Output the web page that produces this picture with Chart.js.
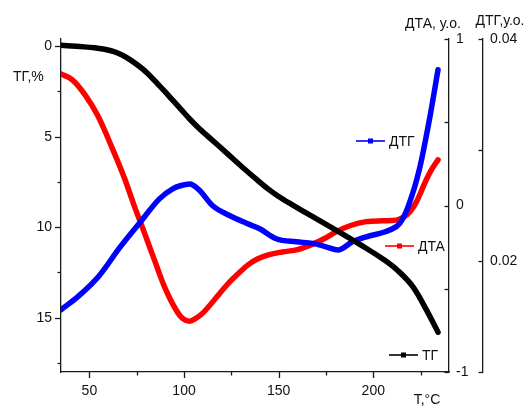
<!DOCTYPE html>
<html>
<head>
<meta charset="utf-8">
<script src="https://cdn.jsdelivr.net/npm/chart.js@4/dist/chart.umd.min.js"></script>
<style>
  html, body { margin: 0; padding: 0; background: #fff; }
  #wrap { width: 528px; height: 409px; }
</style>
</head>
<body>
<div id="wrap"><canvas id="c" width="528" height="409"></canvas></div>
<script>
// Thermogravimetric curve: mass loss, %
const tgTemp   = [35, 45, 52.6, 58, 63, 67.5, 72, 76.5, 80.8, 85, 89.7, 94, 98.5, 103, 107.3, 113.4, 122, 131, 138, 144, 150, 157, 168, 178, 187, 196, 205, 213, 221, 228, 234.2];
const tgValues = [-0.05, 0.02, 0.08, 0.17, 0.3, 0.5, 0.78, 1.12, 1.5, 1.96, 2.48, 2.98, 3.5, 4.02, 4.47, 5.05, 5.85, 6.7, 7.33, 7.85, 8.3, 8.75, 9.42, 10.02, 10.58, 11.15, 11.75, 12.4, 13.3, 14.55, 15.8];

// Differential thermal analysis, arb. units
const dtaTemp   = [35, 41, 48, 54.4, 61.5, 68.5, 73.8, 79.1, 84.4, 89.7, 95.9, 99.4, 103, 106, 110, 118.7, 124, 129, 134, 139, 145, 152, 160, 168, 174, 180.5, 188, 196.3, 205, 212, 216, 219.2, 222.7, 225.5, 228, 231, 234.2];
const dtaValues = [0.79, 0.755, 0.66, 0.54, 0.36, 0.165, -0.005, -0.165, -0.328, -0.489, -0.629, -0.68, -0.695, -0.68, -0.645, -0.53, -0.46, -0.405, -0.355, -0.32, -0.295, -0.279, -0.265, -0.232, -0.2, -0.157, -0.12, -0.097, -0.092, -0.088, -0.07, -0.04, 0.02, 0.09, 0.155, 0.22, 0.274];

// Differential thermogravimetry, arb. units
const dtgTemp   = [35, 44.7, 55.3, 66, 76.4, 87, 94, 98, 103, 108, 115, 124, 133, 140, 148.7, 159.3, 168, 175, 181.3, 189, 196.3, 208.7, 214, 218.4, 224.5, 229.8, 234.2];
const dtgValues = [0.0156, 0.0169, 0.0187, 0.0212, 0.0234, 0.0256, 0.0265, 0.02678, 0.02694, 0.0264, 0.025, 0.0241, 0.0234, 0.0229, 0.022, 0.02173, 0.02159, 0.02128, 0.02098, 0.02173, 0.02218, 0.02279, 0.02339, 0.0249, 0.02836, 0.03287, 0.03723];

// Axis ticks
const xMajorTicks   = [50, 100, 150, 200];
const xMinorTicks   = [75, 125, 175, 225];
const tgMajorTicks  = [0, 5, 10, 15];
const tgMinorTicks  = [2.5, 7.5, 12.5, 17.5];
const dtaMajorTicks = [-1, 0, 1];
const dtaMinorTicks = [-0.5, 0.5];
const dtgLabelTicks = [0.02, 0.04];
const dtgOtherTicks = [0.01, 0.03];

const FONT = { family: '"Liberation Sans", Arial, sans-serif', size: 14 };
const AXIS_COLOR = '#1a1a1a';

const toPoints = (xs, ys) => xs.map((x, i) => ({ x, y: ys[i] }));
const setTicks = list => scale => { scale.ticks = list.map(v => ({ value: v })); };

// Tick marks, axis titles and inline legend labels
const decorations = {
  id: 'decorations',
  afterDraw(chart) {
    const { ctx, chartArea, scales } = chart;
    ctx.save();
    ctx.strokeStyle = AXIS_COLOR;
    ctx.lineWidth = 1.3;
    const seg = (x1, y1, x2, y2) => { ctx.beginPath(); ctx.moveTo(x1, y1); ctx.lineTo(x2, y2); ctx.stroke(); };

    const xb = chartArea.bottom;
    xMajorTicks.forEach(v => { const p = Math.round(scales.x.getPixelForValue(v)) + 0.5; seg(p, xb, p, xb + 6); });
    xMinorTicks.forEach(v => { const p = Math.round(scales.x.getPixelForValue(v)) + 0.5; seg(p, xb, p, xb + 3.5); });

    const yl = chartArea.left;
    tgMajorTicks.forEach(v => { const p = Math.round(scales.y.getPixelForValue(v)) + 0.5; seg(yl - 6, p, yl, p); });
    tgMinorTicks.forEach(v => { const p = Math.round(scales.y.getPixelForValue(v)) + 0.5; seg(yl - 3.5, p, yl, p); });

    const ad = scales.dta.left;
    dtaMajorTicks.concat(dtaMinorTicks).forEach(v => { const p = Math.round(scales.dta.getPixelForValue(v)) + 0.5; seg(ad - 4.5, p, ad, p); });

    const ag = scales.dtg.left;
    dtgLabelTicks.concat(dtgOtherTicks).forEach(v => { const p = Math.round(scales.dtg.getPixelForValue(v)) + 0.5; seg(ag - 4.5, p, ag, p); });

    // Axis titles
    ctx.fillStyle = '#111';
    ctx.font = `${FONT.size}px ${FONT.family}`;
    ctx.textBaseline = 'middle';
    ctx.textAlign = 'left';
    ctx.fillText('ТГ,%', 13, 77);
    ctx.textAlign = 'center';
    ctx.fillText('ДТА, у.о.', 433, 24);
    ctx.fillText('ДТГ,у.о.', 500, 21);
    ctx.fillText('Т,°С', 427, 400);

    // Inline legend
    const entries = [
      { label: 'ДТГ', color: '#0000ff', x1: 356, x2: 385, y: 141 },
      { label: 'ДТА', color: '#ff0000', x1: 385, x2: 414, y: 246 },
      { label: 'ТГ',  color: '#000000', x1: 389, x2: 418, y: 355 }
    ];
    ctx.textAlign = 'left';
    entries.forEach(e => {
      ctx.strokeStyle = e.color;
      ctx.lineWidth = 1.6;
      seg(e.x1, e.y, e.x2, e.y);
      ctx.fillStyle = e.color;
      const mx = (e.x1 + e.x2) / 2;
      ctx.fillRect(mx - 2.5, e.y - 2.5, 5, 5);
      ctx.fillStyle = '#111';
      ctx.fillText(e.label, e.x2 + 4, e.y + 1);
    });
    ctx.restore();
  }
};

const lineStyle = color => ({
  borderColor: color,
  backgroundColor: color,
  borderWidth: 5.5,
  pointRadius: 0,
  fill: false,
  cubicInterpolationMode: 'monotone',
  borderCapStyle: 'round',
  borderJoinStyle: 'round'
});

new Chart(document.getElementById('c'), {
  type: 'line',
  data: {
    datasets: [
      Object.assign({ label: 'ТГ',  data: toPoints(tgTemp, tgValues),   yAxisID: 'y'   }, lineStyle('#000000')),
      Object.assign({ label: 'ДТГ', data: toPoints(dtgTemp, dtgValues), yAxisID: 'dtg' }, lineStyle('#0000ff')),
      Object.assign({ label: 'ДТА', data: toPoints(dtaTemp, dtaValues), yAxisID: 'dta' }, lineStyle('#ff0000'))
    ]
  },
  options: {
    responsive: false,
    animation: false,
    devicePixelRatio: 1,
    layout: { padding: { top: 39, left: 0, right: 0, bottom: 0 } },
    plugins: { legend: { display: false }, tooltip: { enabled: false } },
    scales: {
      x: {
        type: 'linear', position: 'bottom', min: 35, max: 240,
        afterBuildTicks: setTicks(xMajorTicks),
        afterFit: s => { s.height = 37; },
        grid: { display: false, drawTicks: false },
        border: { display: true, color: AXIS_COLOR, width: 1.3 },
        ticks: { font: FONT, color: '#111', padding: 11, maxRotation: 0, autoSkip: false }
      },
      y: {
        type: 'linear', position: 'left', reverse: true, min: -0.4, max: 18,
        afterBuildTicks: setTicks(tgMajorTicks),
        afterFit: s => { s.width = 61; },
        grid: { display: false, drawTicks: false },
        border: { display: true, color: AXIS_COLOR, width: 1.3 },
        ticks: { font: FONT, color: '#111', padding: 9, autoSkip: false }
      },
      dta: {
        type: 'linear', position: 'right', min: -1, max: 1,
        afterBuildTicks: setTicks(dtaMajorTicks),
        afterFit: s => { s.width = 34; },
        grid: { display: false, drawTicks: false },
        border: { display: true, color: AXIS_COLOR, width: 1.3 },
        ticks: { font: FONT, color: '#111', padding: 7, autoSkip: false }
      },
      dtg: {
        type: 'linear', position: 'right', min: 0.01, max: 0.04,
        afterBuildTicks: setTicks(dtgLabelTicks),
        afterFit: s => { s.width = 45; },
        grid: { display: false, drawTicks: false },
        border: { display: true, color: AXIS_COLOR, width: 1.3 },
        ticks: { font: FONT, color: '#111', padding: 7, autoSkip: false, callback: v => v.toFixed(2) }
      }
    }
  },
  plugins: [decorations]
});
</script>
</body>
</html>
